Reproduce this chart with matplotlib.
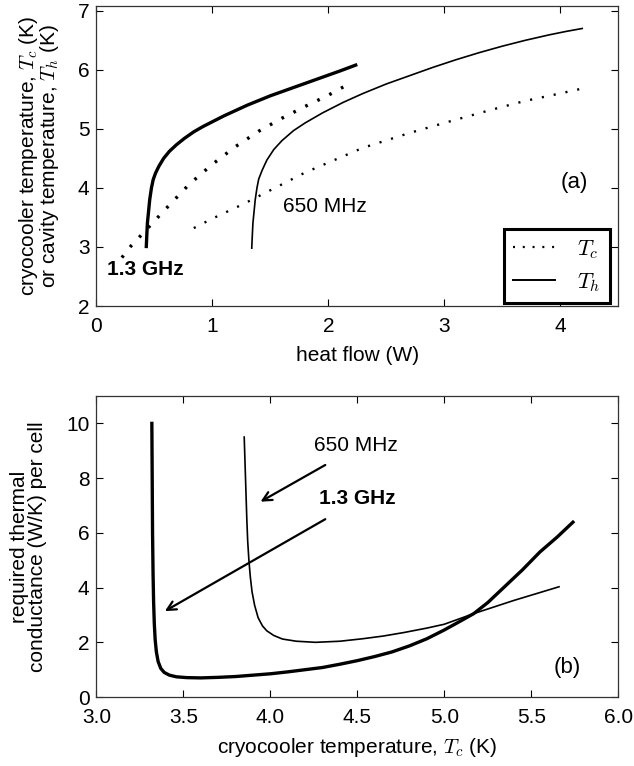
import numpy as np
import matplotlib
matplotlib.use("Agg")
import matplotlib.pyplot as plt
from matplotlib.lines import Line2D

plt.rcParams['font.family'] = ['Liberation Sans', 'DejaVu Sans']
plt.rcParams['mathtext.fontset'] = 'cm'
plt.rcParams['font.size'] = 15

# panel (a): heat flow (W) vs temperature (K)
q_th_13 = [0.43, 0.435, 0.44, 0.45, 0.46, 0.475, 0.49, 0.51, 0.54, 0.58, 0.63, 0.69, 0.76, 0.84, 0.92,
           1.00, 1.10, 1.20, 1.30, 1.40, 1.50, 1.60, 1.70, 1.80, 1.90, 2.00, 2.10, 2.25]
t_th_13 = [2.98, 3.20, 3.40, 3.60, 3.80, 4.00, 4.14, 4.25, 4.37, 4.50, 4.62, 4.73, 4.84, 4.95, 5.04,
           5.12, 5.22, 5.31, 5.40, 5.48, 5.56, 5.63, 5.70, 5.77, 5.84, 5.91, 5.98, 6.09]

q_tc_13 = [0.22, 0.30, 0.42, 0.52, 0.62, 0.80, 1.00, 1.20, 1.40, 1.60, 1.80, 2.00, 2.13]
t_tc_13 = [2.82, 3.02, 3.27, 3.48, 3.69, 4.06, 4.40, 4.70, 4.96, 5.18, 5.38, 5.57, 5.71]

q_th_650 = [1.34, 1.345, 1.35, 1.36, 1.37, 1.385, 1.40, 1.43, 1.47, 1.53, 1.60, 1.70, 1.80, 1.95, 2.13,
            2.30, 2.50, 2.70, 2.90, 3.10, 3.30, 3.50, 3.70, 3.90, 4.05, 4.19]
t_th_650 = [2.98, 3.20, 3.40, 3.60, 3.80, 4.00, 4.15, 4.30, 4.47, 4.65, 4.80, 4.97, 5.10, 5.27, 5.45,
            5.60, 5.76, 5.90, 6.04, 6.17, 6.29, 6.40, 6.50, 6.59, 6.65, 6.70]

q_tc_650 = [0.84, 1.00, 1.26, 1.40, 1.80, 2.30, 2.70, 3.00, 3.40, 3.69, 4.00, 4.23]
t_tc_650 = [3.32, 3.48, 3.72, 3.86, 4.26, 4.68, 4.93, 5.10, 5.32, 5.47, 5.60, 5.70]

# panel (b): cryocooler temperature (K) vs conductance (W/K)
tc_13 = [3.319, 3.321, 3.323, 3.326, 3.329, 3.333, 3.338, 3.345, 3.355, 3.37, 3.39, 3.42, 3.46, 3.52,
         3.60, 3.70, 3.80, 3.90, 4.00, 4.10, 4.20, 4.30, 4.40, 4.50, 4.60, 4.70, 4.80, 4.90, 5.00,
         5.10, 5.17, 5.25, 5.35, 5.45, 5.55, 5.65, 5.74]
g_13 = [10.0, 8.0, 6.0, 4.5, 3.5, 2.7, 2.1, 1.65, 1.30, 1.05, 0.90, 0.80, 0.74, 0.71,
        0.70, 0.72, 0.75, 0.80, 0.85, 0.92, 1.00, 1.08, 1.20, 1.33, 1.48, 1.65, 1.87, 2.13, 2.45,
        2.80, 3.05, 3.45, 4.05, 4.65, 5.30, 5.85, 6.39]

tc_650 = [3.850, 3.855, 3.860, 3.865, 3.870, 3.877, 3.885, 3.895, 3.91, 3.93, 3.955, 3.98, 4.02, 4.07,
          4.15, 4.26, 4.40, 4.53, 4.65, 4.77, 4.90, 5.00, 5.17, 5.40, 5.66]
g_650 = [9.5, 8.5, 7.5, 6.5, 5.7, 5.0, 4.4, 3.85, 3.35, 2.90, 2.60, 2.42, 2.25, 2.12,
         2.04, 2.00, 2.04, 2.13, 2.23, 2.36, 2.52, 2.66, 3.05, 3.53, 4.03]

fig = plt.figure(figsize=(6.34, 7.66), dpi=100)
ax1 = fig.add_axes([0.152, 0.6005, 0.823, 0.3916])
ax2 = fig.add_axes([0.152, 0.090, 0.823, 0.393])

for ax in (ax1, ax2):
    ax.tick_params(direction='in', length=5, width=0.8, top=True, right=True, labelsize=15)
    ax.tick_params(axis='x', pad=8)
    ax.tick_params(axis='y', pad=5)
    for s in ax.spines.values():
        s.set_linewidth(0.9)
        s.set_color('#333333')

# (a)
ax1.plot(q_th_13, t_th_13, color='k', lw=2.4, solid_capstyle='butt')
ax1.plot(q_tc_13, t_tc_13, color='k', lw=2.4, linestyle=(0, (0.8, 3.2)))
ax1.plot(q_th_650, t_th_650, color='k', lw=1.2)
ax1.plot(q_tc_650, t_tc_650, color='k', lw=1.7, linestyle=(0, (0.9, 4.2)))
ax1.set_xlim(0, 4.5)
ax1.set_ylim(2, 7.08)
ax1.set_xticks([0, 1, 2, 3, 4])
ax1.set_yticks([2, 3, 4, 5, 6, 7])
ax1.set_xlabel('heat flow (W)', fontsize=15, labelpad=7)
ax1.set_ylabel('cryocooler temperature, $T_c$ (K)\nor cavity temperature, $T_h$ (K)',
               fontsize=15, labelpad=12, linespacing=0.9)
ax1.text(4.12, 4.1, '(a)', fontsize=16, ha='center', va='center')
ax1.text(1.97, 3.69, '650 MHz', fontsize=15, ha='center', va='center')
ax1.text(0.42, 2.62, '1.3 GHz', fontsize=15, fontweight='bold', ha='center', va='center')

handles = [Line2D([], [], color='k', lw=1.6, linestyle=(0, (0.9, 3.5))),
           Line2D([], [], color='k', lw=1.4)]
leg = ax1.legend(handles, ['$T_c$', '$T_h$'], loc='lower right', fontsize=16,
                 fancybox=False, edgecolor='k', framealpha=1, handlelength=1.9,
                 borderaxespad=0.15, handletextpad=1.0, borderpad=0.4, labelspacing=0.45,
                 bbox_to_anchor=(0.99, 0.0))
leg.get_frame().set_linewidth(2.2)

# (b)
ax2.plot(tc_13, g_13, color='k', lw=2.4)
ax2.plot(tc_650, g_650, color='k', lw=1.2)
ax2.set_xlim(3.0, 6.0)
ax2.set_ylim(0, 11)
ax2.set_xticks([3.0, 3.5, 4.0, 4.5, 5.0, 5.5, 6.0])
ax2.set_xticklabels(['3.0', '3.5', '4.0', '4.5', '5.0', '5.5', '6.0'])
ax2.set_yticks([0, 2, 4, 6, 8, 10])
ax2.set_xlabel('cryocooler temperature, $T_c$ (K)', fontsize=15, labelpad=6)
ax2.set_ylabel('required thermal\nconductance (W/K) per cell', fontsize=15, labelpad=14, linespacing=0.9)
ax2.text(5.71, 1.08, '(b)', fontsize=16, ha='center', va='center')
ax2.text(4.49, 9.2, '650 MHz', fontsize=15, ha='center', va='center')
ax2.text(4.5, 7.25, '1.3 GHz', fontsize=15, fontweight='bold', ha='center', va='center')
ax2.annotate('', xy=(3.93, 7.09), xytext=(4.33, 8.53),
             arrowprops=dict(arrowstyle='->', lw=1.6, color='k', mutation_scale=16))
ax2.annotate('', xy=(3.38, 3.09), xytext=(4.33, 6.55),
             arrowprops=dict(arrowstyle='->', lw=1.6, color='k', mutation_scale=16))

fig.savefig('out.png', dpi=100)
